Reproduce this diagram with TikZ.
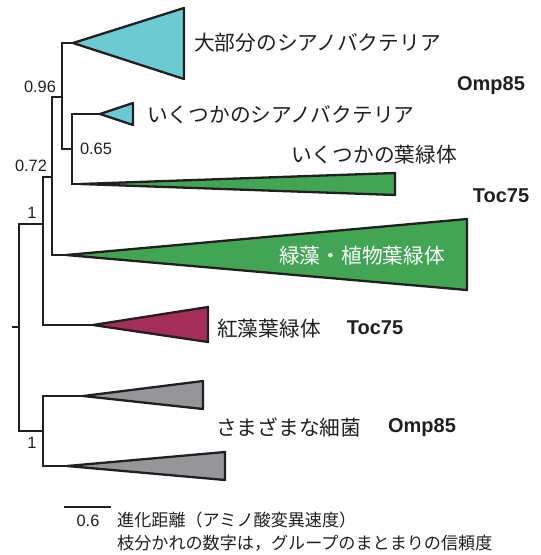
\documentclass[tikz,border=0pt]{standalone}
\usepackage{fontspec}
\setmainfont{Liberation Sans}
\newfontfamily\jp{Noto Sans CJK JP}
\definecolor{cyanC}{RGB}{108,202,210}
\definecolor{greenC}{RGB}{66,165,84}
\definecolor{redC}{RGB}{164,46,89}
\definecolor{grayC}{RGB}{148,150,153}
\definecolor{ink}{RGB}{35,31,32}
\tikzset{
  branch/.style={draw=ink, line width=2.3pt, line join=miter},
  clade/.style={draw=ink, line width=2.3pt, line join=round},
  jplabel/.style={anchor=west, inner sep=0pt, text=ink, font=\jp\fontsize{20.7}{22}\selectfont},
  gene/.style={anchor=center, inner sep=0pt, text=ink, font=\bfseries\fontsize{20}{22}\selectfont},
  support/.style={anchor=center, inner sep=0pt, text=ink, font=\fontsize{16.4}{18}\selectfont},
  note/.style={anchor=west, inner sep=0pt, text=ink, font=\jp\fontsize{17.1}{19}\selectfont}
}
\begin{document}
\begin{tikzpicture}[x=1pt,y=-1pt]
\useasboundingbox (0,0) rectangle (541,555);
% tree coordinates
\coordinate (root) at (12,327);
\coordinate (nA) at (19,327);
\coordinate (aT) at (73,43);
\coordinate (bT) at (100,114);
\coordinate (cT) at (80,184);
\coordinate (dT) at (66,255);
\coordinate (eT) at (93,325);
\coordinate (fT) at (83,396);
\coordinate (gT) at (67,466);
% clades
\draw[clade, fill=cyanC] (aT) -- (184,8) -- (184,79) -- cycle;
\draw[clade, fill=cyanC] (bT) -- (133,103) -- (133,125) -- cycle;
\draw[clade, fill=greenC] (cT) -- (395,173) -- (395,195) -- cycle;
\draw[clade, fill=greenC] (dT) -- (467,219) -- (467,290) -- cycle;
\draw[clade, fill=redC] (eT) -- (208,307) -- (208,342) -- cycle;
\draw[clade, fill=grayC] (fT) -- (203,381) -- (203,409) -- cycle;
\draw[clade, fill=grayC] (gT) -- (225,452) -- (225,480) -- cycle;
% branches
\draw[branch] (aT) -- (62,43) -- (62,149) -- (72,149);
\draw[branch] (bT) -- (72,114) -- (72,184) -- (cT);
\draw[branch] (62,97) -- (52,97) -- (52,255) -- (dT);
\draw[branch] (52,177) -- (43,177) -- (43,325) -- (eT);
\draw[branch] (43,224) -- (19,224) -- (19,431) -- (43,431);
\draw[branch] (fT) -- (43,396) -- (43,466) -- (gT);
\draw[branch] (root) -- (nA);
% support values
\node[support] (s96) at (40,87) {0.96};
\node[support] (s65) at (96,149) {0.65};
\node[support] (s72) at (31,166) {0.72};
\node[support] (s1a) at (32,213) {1};
\node[support] (s1b) at (32,443) {1};
% labels
\node[jplabel] (l1) at (194,43) {大部分のシアノバクテリア};
\node[gene] (g1) at (491,86) {Omp85};
\node[jplabel] (l2) at (147,115) {いくつかのシアノバクテリア};
\node[jplabel] (l3) at (291,155) {いくつかの葉緑体};
\node[gene] (g2) at (501,196) {Toc75};
\node[jplabel, text=white] (l4) at (279,256) {緑藻・植物葉緑体};
\node[jplabel] (l5) at (217,329) {紅藻葉緑体};
\node[gene] (g3) at (375,328) {Toc75};
\node[jplabel] (l6) at (216,427) {さまざまな細菌};
\node[gene] (g4) at (422,428) {Omp85};
% scale bar
\coordinate (sb1) at (64,507);
\coordinate (sb2) at (111,507);
\draw[draw=ink, line width=1.6pt] (sb1) -- (sb2);
\node[support] (sb) at (88,521) {0.6};
\node[note] (n1) at (117,520) {進化距離（アミノ酸変異速度）};
\node[note] (n2) at (117,543) {枝分かれの数字は，グループのまとまりの信頼度};
\end{tikzpicture}
\end{document}
